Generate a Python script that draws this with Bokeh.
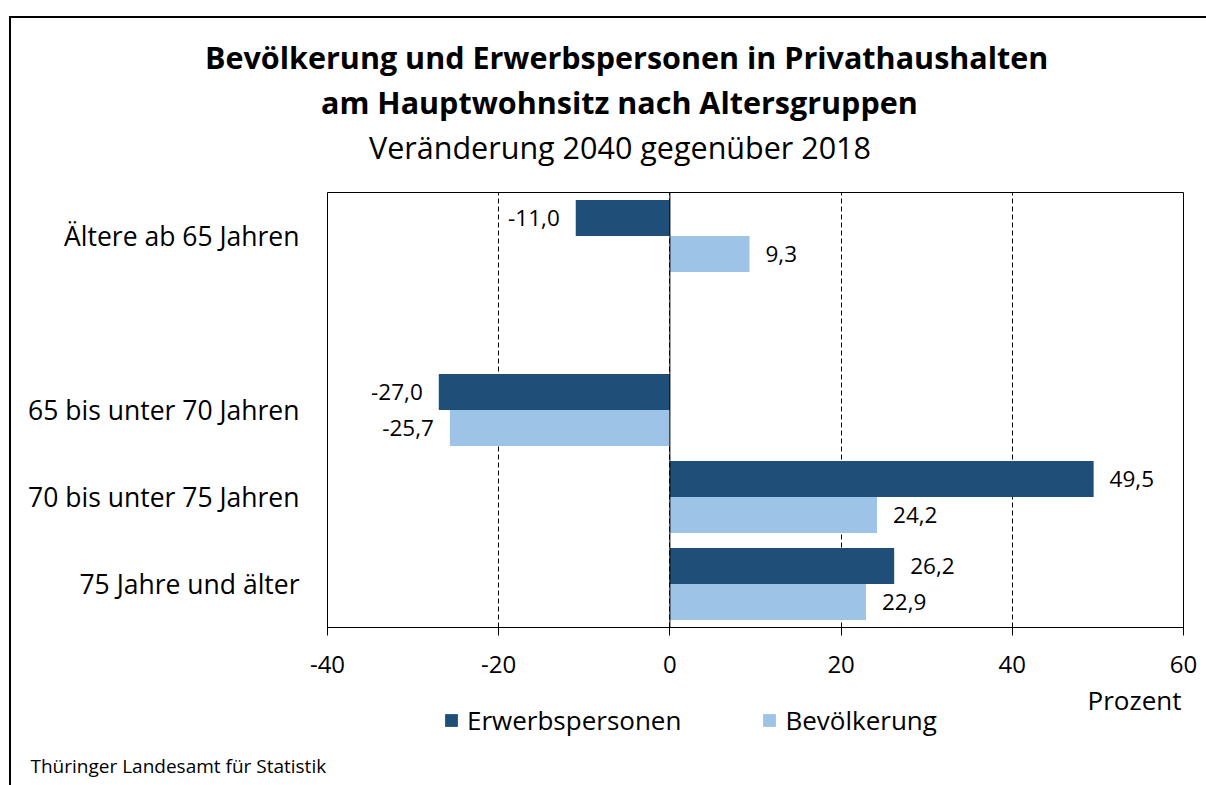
from bokeh.plotting import figure
from bokeh.layouts import column
from bokeh.models import (ColumnDataSource, FactorRange, Legend, LegendItem, Label,
                          Span, FixedTicker, Range1d, Title)
from bokeh.transform import dodge
from bokeh.core.properties import value
from bokeh.embed import file_html
from bokeh.resources import INLINE

categories = ["Ältere ab 65 Jahren", "65 bis unter 70 Jahren",
              "70 bis unter 75 Jahren", "75 Jahre und älter"]
erwerbspersonen = [-11.0, -27.0, 49.5, 26.2]
bevoelkerung = [9.3, -25.7, 24.2, 22.9]
x_ticks = [-40, -20, 0, 20, 40, 60]
series_names = ["Erwerbspersonen", "Bevölkerung"]
colors = ["#1F4E79", "#9DC3E6"]
title_lines = ["Bevölkerung und Erwerbspersonen in Privathaushalten",
               "am Hauptwohnsitz nach Altersgruppen"]
subtitle = "Veränderung 2040 gegenüber 2018"
unit_label = "Prozent"
source_note = "Thüringer Landesamt für Statistik"

FONT = "Open Sans"
spacer = " "
factors = [categories[3], categories[2], categories[1], spacer, categories[0]]

def fmt(v):
    return ("%.1f" % v).replace(".", ",")

def make_src(vals):
    return ColumnDataSource(dict(
        cat=categories, val=vals,
        txt=[fmt(v) for v in vals],
        align=["right" if v < 0 else "left" for v in vals],
        xoff=[-16 if v < 0 else 16 for v in vals],
    ))

src_e = make_src(erwerbspersonen)
src_b = make_src(bevoelkerung)

OX, OY = 11, 18            # canvas origin in the page (margin + border)
W = 1206 - OX
FRAME_L, FRAME_R = 327, 1183
SPLIT1, SPLIT2 = 185, 689  # page y where the stacked figures meet

def blank_fig(h, y_range=None, **kw):
    f = figure(width=W, height=h, output_backend="svg", toolbar_location=None,
               x_axis_location=None, y_axis_location=None, min_border=0,
               x_range=Range1d(-40, 60), y_range=y_range or Range1d(0, 1), **kw)
    f.xgrid.grid_line_color = None
    f.ygrid.grid_line_color = None
    f.outline_line_color = None
    f.background_fill_color = "white"
    f.border_fill_color = "white"
    return f

# ---- titles (title panels above an empty strip)
HT = SPLIT1 - OY
t = blank_fig(HT, min_border_top=151)

def add_title(f, text, size, style, side, offset, standoff):
    f.add_layout(Title(text=text, text_font=FONT, text_font_size=size,
                       text_font_style=style, text_color="black", align="left",
                       offset=offset, standoff=standoff), side)

add_title(t, subtitle, "30.5px", "normal", "above", 368.5 - FRAME_L, 3)
add_title(t, title_lines[1], "30.5px", "bold", "above", 320.5 - FRAME_L, 0)
add_title(t, title_lines[0], "30.5px", "bold", "above", 204.5 - FRAME_L, 1)

# ---- main chart
HP = SPLIT2 - SPLIT1
p = figure(width=W, height=HP, output_backend="svg", toolbar_location=None,
           x_range=(-40, 60), y_range=FactorRange(*factors, range_padding=0),
           min_border_left=FRAME_L - OX, min_border_right=1206 - FRAME_R,
           min_border_top=192 - SPLIT1, min_border_bottom=SPLIT2 - 627)
p.y_range.factor_padding = 0
p.outline_line_color = "black"
p.outline_line_width = 1
p.background_fill_color = "white"
p.border_fill_color = "white"

bh = 0.414
r_e = p.hbar(y=dodge("cat", bh / 2, range=p.y_range), right="val", left=0, height=bh,
             source=src_e, fill_color=colors[0], line_color=None)
r_b = p.hbar(y=dodge("cat", -bh / 2, range=p.y_range), right="val", left=0, height=bh,
             source=src_b, fill_color=colors[1], line_color=None)

for src, off in ((src_e, bh / 2), (src_b, -bh / 2)):
    p.text(x="val", y=dodge("cat", off, range=p.y_range), text="txt", source=src,
           text_align="align", x_offset="xoff", text_baseline="middle",
           text_font=value(FONT), text_font_size="22.5px", text_color="black")

p.add_layout(Span(location=0, dimension="height", line_color="black", line_width=1))

p.xaxis.ticker = FixedTicker(ticks=x_ticks)
p.xaxis.minor_tick_line_color = None
p.xaxis.major_tick_out = 8
p.xaxis.major_tick_in = 0
p.xaxis.axis_line_color = "black"
p.xaxis.major_label_text_font = FONT
p.xaxis.major_label_text_font_size = "24px"
p.xaxis.major_label_text_color = "black"
p.xaxis.major_label_standoff = 20
p.xaxis.major_label_overrides = {t_: str(t_) for t_ in x_ticks}

p.yaxis.axis_line_color = None
p.yaxis.major_tick_line_color = None
p.yaxis.minor_tick_line_color = None
p.yaxis.major_label_text_font = FONT
p.yaxis.major_label_text_font_size = "26.5px"
p.yaxis.major_label_text_color = "black"
p.yaxis.major_label_standoff = 22

p.xgrid.ticker = FixedTicker(ticks=x_ticks)
p.xgrid.grid_line_color = "black"
p.xgrid.grid_line_dash = "5 3"
p.ygrid.grid_line_color = None

# ---- unit, legend and source
HB = 785 - SPLIT2
q = blank_fig(HB, y_range=FactorRange(*factors))
l_e = q.hbar(y="cat", right="val", left=0, height=bh, source=src_e,
             fill_color=colors[0], line_color=None, visible=False)
l_b = q.hbar(y="cat", right="val", left=0, height=bh, source=src_b,
             fill_color=colors[1], line_color=None, visible=False)
add_title(q, source_note, "19px", "normal", "below", 30 - FRAME_L, 13)
QF_BOTTOM = 785 - (27 + 13)   # page y of the legend panel's frame bottom
q.add_layout(Label(x=FRAME_R - FRAME_L - 2, y=QF_BOTTOM - 700, x_units="screen",
                   y_units="screen", text=unit_label, text_font=FONT,
                   text_font_size="26px", text_align="right", text_baseline="middle",
                   text_color="black"))
legend = Legend(items=[LegendItem(label=series_names[0], renderers=[l_e]),
                       LegendItem(label=series_names[1], renderers=[l_b])],
                location=(443 - FRAME_L, QF_BOTTOM - (722 + 17)), orientation="horizontal",
                glyph_width=16, glyph_height=16, label_standoff=8, spacing=80,
                padding=0, margin=0, border_line_color=None, click_policy="none",
                background_fill_alpha=0, label_text_font=FONT,
                label_text_font_size="26px", label_text_color="black")
q.add_layout(legend, "center")

page = column(t, p, q, spacing=0,
              styles={"border-left": "2px solid black", "border-top": "2px solid black",
                      "margin-left": "9px", "margin-top": "16px"})

open("out.html", "w").write(file_html(page, INLINE))
